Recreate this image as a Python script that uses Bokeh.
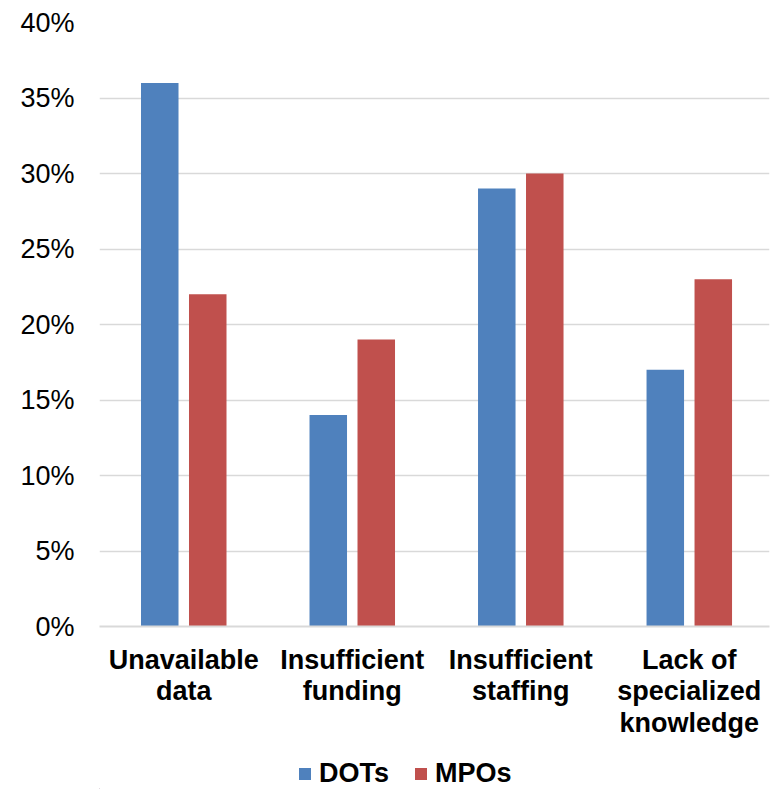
from bokeh.plotting import figure
from bokeh.layouts import column
from bokeh.models import (ColumnDataSource, Range1d, FixedTicker, NumeralTickFormatter,
                          Legend, LegendItem)
from bokeh.embed import file_html
from bokeh.resources import INLINE

# Barriers reported by agencies (share of respondents)
categories = ["Unavailable\ndata", "Insufficient\nfunding", "Insufficient\nstaffing",
              "Lack of\nspecialized\nknowledge"]
dots = [0.36, 0.14, 0.29, 0.17]
mpos = [0.22, 0.19, 0.30, 0.23]
y_ticks = [0.0, 0.05, 0.10, 0.15, 0.20, 0.25, 0.30, 0.35, 0.40]
series_names = ["DOTs", "MPOs"]

BLUE = "#4F81BD"
RED = "#C0504D"
GRID = "#D9D9D9"
FONT = "Liberation Sans"

centers = [i + 0.5 for i in range(len(categories))]
offset = 0.1424
bar_w = 0.2226

src = ColumnDataSource(dict(
    xd=[c - offset for c in centers],
    xm=[c + offset for c in centers],
    dots=dots,
    mpos=mpos,
))

p = figure(width=770, height=752, output_backend="svg", toolbar_location=None,
           x_range=Range1d(0, 3.976), y_range=Range1d(0, 0.40),
           min_border_left=99, min_border_right=1, min_border_top=22, min_border_bottom=126)
p.outline_line_color = None
p.background_fill_color = "white"
p.border_fill_color = "white"

p.vbar(x="xd", top="dots", width=bar_w, source=src, fill_color=BLUE, line_color=None)
p.vbar(x="xm", top="mpos", width=bar_w, source=src, fill_color=RED, line_color=None)

# y axis: percentages with light horizontal gridlines
p.yaxis.ticker = FixedTicker(ticks=y_ticks)
p.yaxis.formatter = NumeralTickFormatter(format="0%")
p.yaxis.axis_line_color = None
p.yaxis.major_tick_line_color = None
p.yaxis.minor_tick_line_color = None
p.yaxis.major_label_text_font = FONT
p.yaxis.major_label_text_font_size = "27px"
p.yaxis.major_label_text_color = "black"
p.yaxis.major_label_standoff = 19
p.ygrid.ticker = FixedTicker(ticks=y_ticks[1:])
p.ygrid.grid_line_color = GRID
p.ygrid.grid_line_width = 1.5

# x axis: category names under each group
p.xgrid.grid_line_color = None
p.xaxis.ticker = FixedTicker(ticks=centers)
p.xaxis.major_label_overrides = {c: lab for c, lab in zip(centers, categories)}
p.xaxis.axis_line_color = GRID
p.xaxis.axis_line_width = 2
p.xaxis.major_tick_line_color = None
p.xaxis.minor_tick_line_color = None
p.xaxis.major_label_text_font = FONT
p.xaxis.major_label_text_font_size = "27px"
p.xaxis.major_label_text_font_style = "bold"
p.xaxis.major_label_text_color = "black"
p.xaxis.major_label_text_line_height = 1.05
p.xaxis.major_label_standoff = 12

# Legend strip below the chart (swatch renderers sit outside the visible range)
leg = figure(width=770, height=37, output_backend="svg", toolbar_location=None,
             x_range=Range1d(0, 770), y_range=Range1d(0, 37),
             x_axis_location=None, y_axis_location=None,
             min_border=0, min_border_left=0, min_border_right=0,
             min_border_top=0, min_border_bottom=0)
leg.grid.visible = False
leg.outline_line_color = None
leg.background_fill_color = "white"
leg.border_fill_color = "white"
swatch = ColumnDataSource(dict(x=[-1000], top=[1]))
l_d = leg.vbar(x="x", top="top", width=1, source=swatch, fill_color=BLUE, line_color=None)
l_m = leg.vbar(x="x", top="top", width=1, source=swatch, fill_color=RED, line_color=None)

legend = Legend(items=[LegendItem(label=series_names[0], renderers=[l_d], index=0),
                       LegendItem(label=series_names[1], renderers=[l_m], index=0)],
                orientation="horizontal", location=(198, 0),
                padding=0, margin=0, spacing=24, label_standoff=7,
                glyph_width=15, glyph_height=15,
                label_text_font=FONT, label_text_font_size="27px",
                label_text_font_style="bold", label_text_color="black",
                label_text_line_height=1.0,
                background_fill_alpha=0, border_line_color=None)
leg.add_layout(legend, "center")

layout = column(p, leg, spacing=0)
open("out.html", "w").write(file_html(layout, INLINE))
